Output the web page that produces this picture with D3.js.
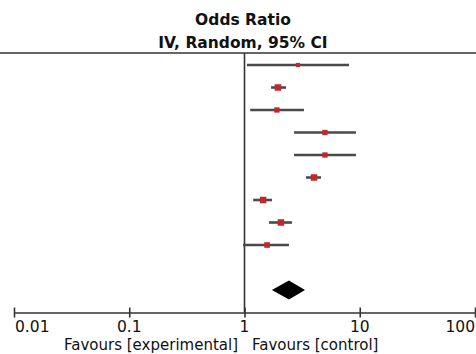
<!DOCTYPE html>
<html><head><meta charset="utf-8">
<script src="https://cdn.jsdelivr.net/npm/d3@7/dist/d3.min.js"></script>
<style>
html,body{margin:0;padding:0;background:#fff;}
svg{display:block;}
text{font-family:"DejaVu Sans",sans-serif;fill:#111;}
</style></head>
<body>
<svg id="chart" width="476" height="354"></svg>
<script>
// Study rows (odds ratio with 95% CI) and marker weights
const studies = ["S1","S2","S3","S4","S5","S6","S7","S8","S9"];
const oddsRatio = [2.91, 1.95, 1.91, 4.99, 4.99, 4.01, 1.45, 2.07, 1.57];
const ciLower   = [1.05, 1.70, 1.12, 2.69, 2.69, 3.42, 1.19, 1.63, 0.97];
const ciUpper   = [8.07, 2.29, 3.28, 9.27, 9.27, 4.61, 1.73, 2.58, 2.43];
const weights   = [5, 12, 8, 8, 8, 12, 12, 12, 9];
// Pooled estimate
const pooled = {or: 2.43, lower: 1.73, upper: 3.35};
// Axis
const tickValues = [0.01, 0.1, 1, 10, 100];
const tickLabels = ["0.01", "0.1", "1", "10", "100"];
const titleLines = ["Odds Ratio", "IV, Random, 95% CI"];
const favourLeft = "Favours [experimental]";
const favourRight = "Favours [control]";

const svg = d3.select("#chart");
const W = 476;
const x = d3.scaleLog().domain([0.01, 100]).range([14, 475]);
const rowIds = studies.concat(["blank", "total"]);
const y = d3.scalePoint().domain(rowIds).range([65, 290]);
const size = d3.scaleSqrt().domain([0, 12]).range([0, 6.5]);

const topY = 53, axisY = 312.5;

// Titles
svg.append("text").attr("x", 243).attr("y", 25).attr("text-anchor", "middle")
  .attr("font-size", 15.5).attr("font-weight", "bold").text(titleLines[0]);
svg.append("text").attr("x", 243).attr("y", 48).attr("text-anchor", "middle")
  .attr("font-size", 15.5).attr("font-weight", "bold").text(titleLines[1]);

// Top rule
svg.append("line").attr("x1", 0).attr("x2", W).attr("y1", topY).attr("y2", topY)
  .attr("stroke", "#333").attr("stroke-width", 1.6);

// Line of no effect
svg.append("line").attr("x1", x(1)).attr("x2", x(1)).attr("y1", topY).attr("y2", axisY)
  .attr("stroke", "#333").attr("stroke-width", 1.6);

// CI lines
const g = svg.append("g");
studies.forEach((s, i) => {
  g.append("line").attr("x1", x(ciLower[i])).attr("x2", x(ciUpper[i]))
    .attr("y1", y(s)).attr("y2", y(s)).attr("stroke", "#4a4a4a").attr("stroke-width", 2.6);
});
studies.forEach((s, i) => {
  const r = size(weights[i]);
  g.append("rect").attr("x", x(oddsRatio[i]) - r / 2).attr("y", y(s) - r / 2)
    .attr("width", r).attr("height", r).attr("fill", "#c4262b");
});

// Pooled diamond
const yt = y("total");
svg.append("path")
  .attr("d", `M${x(pooled.lower)},${yt} L${x(pooled.or)},${yt - 9.5} L${x(pooled.upper)},${yt} L${x(pooled.or)},${yt + 9.5} Z`)
  .attr("fill", "#000");

// Axis
const axis = d3.axisBottom(x).tickValues(tickValues).tickSize(0).tickFormat("");
const ag = svg.append("g").attr("transform", `translate(0,${axisY})`).call(axis);
ag.select(".domain").attr("stroke", "#333").attr("stroke-width", 1.6);
ag.selectAll(".tick").append("line").attr("y1", -5).attr("y2", 5)
  .attr("stroke", "#333").attr("stroke-width", 1.6);
tickValues.forEach((v, i) => {
  const anchor = i === 0 ? "start" : (i === tickValues.length - 1 ? "end" : "middle");
  svg.append("text").attr("x", i === 0 ? x(v) + 1 : x(v)).attr("y", 331.5)
    .attr("text-anchor", anchor).attr("font-size", 15.5).text(tickLabels[i]);
});

svg.append("text").attr("x", 238).attr("y", 349.5).attr("text-anchor", "end")
  .attr("font-size", 15).text(favourLeft);
svg.append("text").attr("x", 252).attr("y", 349.5).attr("text-anchor", "start")
  .attr("font-size", 15).text(favourRight);
</script>
</body></html>
